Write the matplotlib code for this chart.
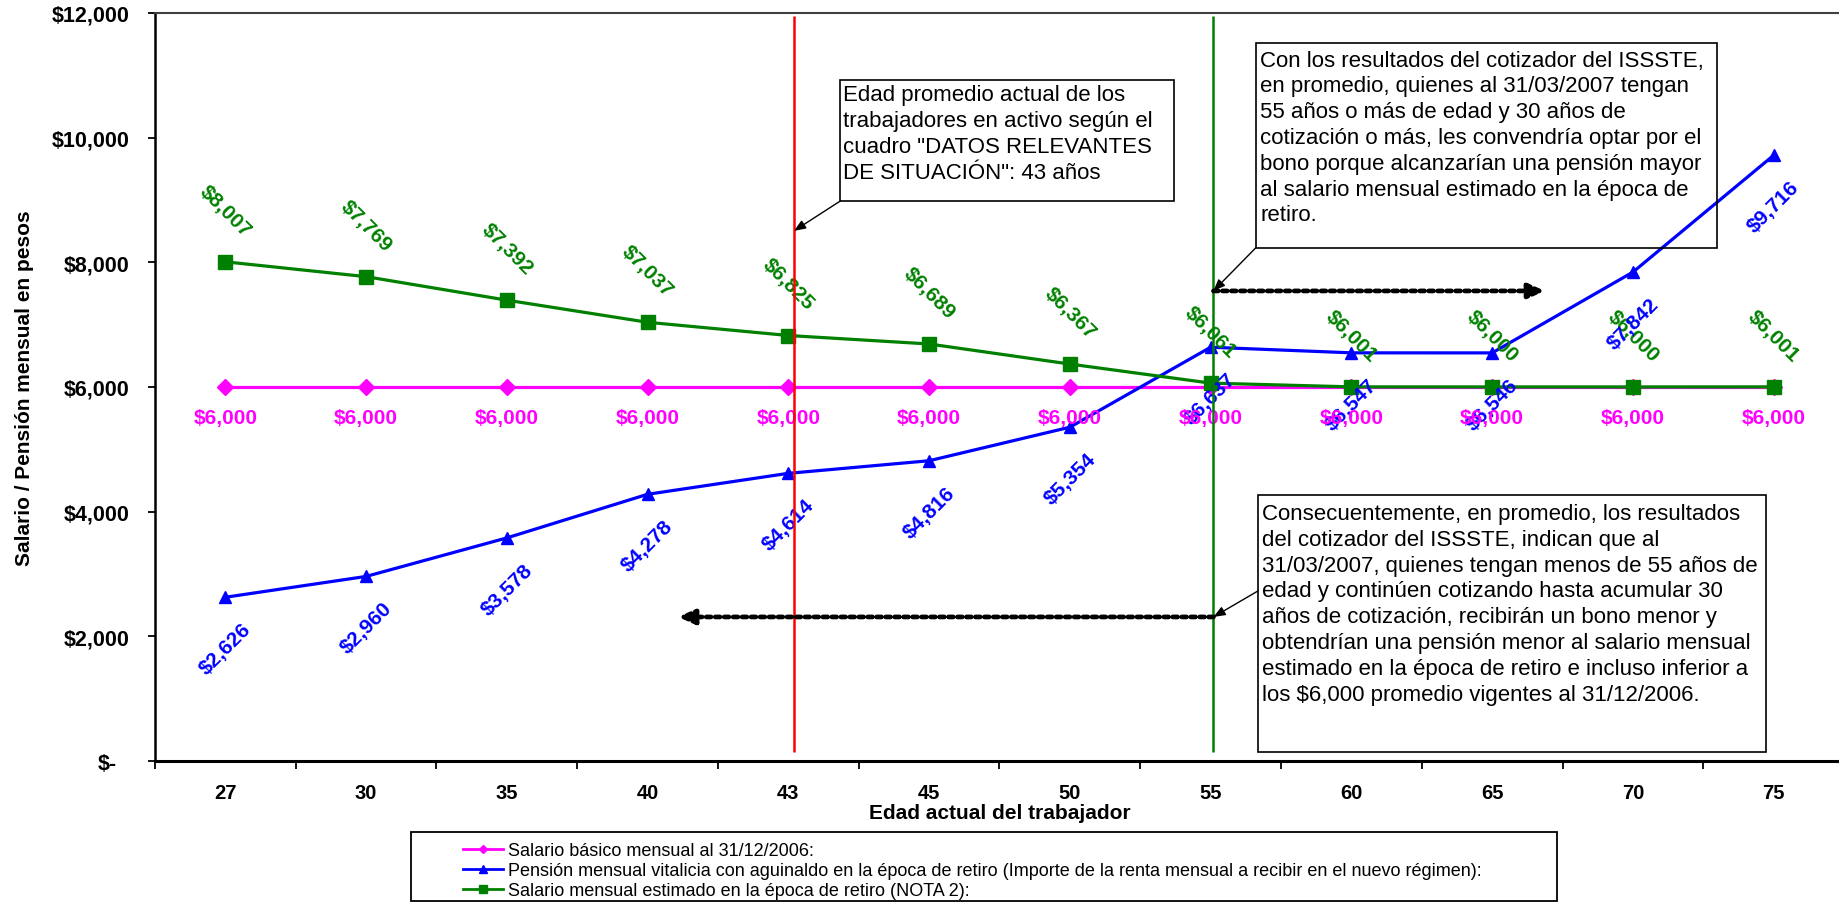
import numpy as np
import matplotlib.pyplot as plt
from matplotlib.lines import Line2D
from matplotlib.patches import Rectangle
from matplotlib.transforms import ScaledTranslation

# datos
edades = [27, 30, 35, 40, 43, 45, 50, 55, 60, 65, 70, 75]
salario_basico = [6000, 6000, 6000, 6000, 6000, 6000, 6000, 6000, 6000, 6000, 6000, 6000]
pension = [2626, 2960, 3578, 4278, 4614, 4816, 5354, 6637, 6547, 6546, 7842, 9716]
salario_retiro = [8007, 7769, 7392, 7037, 6825, 6689, 6367, 6061, 6001, 6000, 6000, 6001]
yticks = [0, 2000, 4000, 6000, 8000, 10000, 12000]
edad_promedio = 43
edad_corte = 55

nombres = ['Salario básico mensual al 31/12/2006:',
           'Pensión mensual vitalicia con aguinaldo en la época de retiro '
           '(Importe de la renta mensual a recibir en el nuevo régimen):',
           'Salario mensual estimado en la época de retiro (NOTA 2):']

nota_edad = ('Edad promedio actual de los\ntrabajadores en activo según el\n'
             'cuadro "DATOS RELEVANTES\nDE SITUACIÓN": 43 años')
nota_mayores = ('Con los resultados del cotizador del ISSSTE,\n'
                'en promedio, quienes al 31/03/2007 tengan\n'
                '55 años o más de edad y 30 años de\n'
                'cotización o más, les convendría optar por el\n'
                'bono porque alcanzarían una pensión mayor\n'
                'al salario mensual estimado en la época de\n'
                'retiro.')
nota_menores = ('Consecuentemente, en promedio, los resultados\n'
                'del cotizador del ISSSTE, indican que al\n'
                '31/03/2007, quienes tengan menos de 55 años de\n'
                'edad y continúen cotizando hasta acumular 30\n'
                'años de cotización, recibirán un bono menor y\n'
                'obtendrían una pensión menor al salario mensual\n'
                'estimado en la época de retiro e incluso inferior a\n'
                'los $6,000 promedio vigentes al 31/12/2006.')

plt.rcParams['font.family'] = ['Liberation Sans', 'DejaVu Sans']

MAGENTA = '#FF00FF'
AZUL = '#0000FF'
VERDE = '#008000'
ROJO = '#FF0000'

fig = plt.figure(figsize=(18.4, 9.03), dpi=100)
ax = fig.add_axes([0.0842, 0.1562, 0.918, 0.8284])

x = np.arange(len(edades))

ax.plot(x, salario_basico, color=MAGENTA, lw=2.3, marker='D', ms=8, zorder=3)
ax.plot(x, pension, color=AZUL, lw=2.3, marker='^', ms=8, zorder=3)
ax.plot(x, salario_retiro, color=VERDE, lw=2.3, marker='s', ms=10.5, zorder=3)

# etiquetas de valores
for xi, v in zip(x, salario_retiro):
    ax.annotate(f'${v:,.0f}', (xi, v), xytext=(0, 37), textcoords='offset points',
                ha='center', va='center', rotation=-45, color=VERDE,
                fontsize=15, fontweight='bold', zorder=4)
for xi, v in zip(x, pension):
    ax.annotate(f'${v:,.0f}', (xi, v), xytext=(0, -37), textcoords='offset points',
                ha='center', va='center', rotation=45, color=AZUL,
                fontsize=15, fontweight='bold', zorder=4)
for xi, v in zip(x, salario_basico):
    ax.annotate(f'${v:,.0f}', (xi, v), xytext=(0, -22), textcoords='offset points',
                ha='center', va='center', color=MAGENTA,
                fontsize=15, fontweight='bold', zorder=4)

# líneas de referencia (43 y 55 años)
x43 = edades.index(edad_promedio) + 0.04
x55 = edades.index(edad_corte) + 0.02
ax.vlines(x43, 150, 11950, color=ROJO, lw=1.8, zorder=5)
ax.vlines(x55, 150, 11950, color=VERDE, lw=1.8, zorder=5)

# cuadros de texto
def cuadro(x0, x1, y0, y1, texto, tx, ty):
    ax.add_patch(Rectangle((x0, y0), x1 - x0, y1 - y0, fill=False,
                           ec='black', lw=1.2, zorder=6))
    ax.text(tx, ty, texto, fontsize=16, va='top', ha='left',
            linespacing=1.30, zorder=6)

cuadro(4.37, 6.74, 8984, 10925, nota_edad, 4.389, 10855)
cuadro(7.32, 10.595, 8230, 11520, nota_mayores, 7.351, 11410)
cuadro(7.337, 10.945, 144, 4267, nota_menores, 7.365, 4139)

flecha = dict(arrowstyle='-|>,head_length=0.7,head_width=0.28', color='black',
              lw=1, shrinkA=0, shrinkB=0)
ax.annotate('', xy=(x43, 8503), xytext=(4.37, 8984), arrowprops=flecha, zorder=6)
ax.annotate('', xy=(x55, 7540), xytext=(7.32, 8230), arrowprops=flecha, zorder=6)
ax.annotate('', xy=(x55, 2310), xytext=(7.337, 2728), arrowprops=flecha, zorder=6)

punteada = dict(arrowstyle='-|>,head_length=0.95,head_width=0.43', color='black',
                lw=3.4, ls=(0, (1, 0.9)), shrinkA=0, shrinkB=0)
ax.annotate('', xy=(9.375, 7540), xytext=(x55, 7540), arrowprops=punteada, zorder=6)
ax.annotate('', xy=(3.217, 2310), xytext=(x55, 2310), arrowprops=punteada, zorder=6)

# ejes
ax.set_xlim(-0.5, len(edades) - 0.5)
ax.set_ylim(0, 12000)
ax.set_xticks(x, [str(e) for e in edades])
ax.set_xticks(np.arange(len(edades) + 1) - 0.5, minor=True)
ax.tick_params(axis='x', which='major', length=0, pad=16, labelsize=14.5)
ax.tick_params(axis='x', which='minor', length=6, width=1.3, direction='out')
ax.set_yticks(yticks, [f'${v:,.0f}' if v else '$-' for v in yticks])
ax.tick_params(axis='y', length=5, width=1.3, direction='out', pad=13.5, labelsize=15.5)
for lab in ax.get_xticklabels() + ax.get_yticklabels():
    lab.set_fontweight('bold')
cero = ax.get_yticklabels()[0]
cero.set_transform(cero.get_transform() + ScaledTranslation(-0.12, 0, fig.dpi_scale_trans))

ax.spines['right'].set_visible(False)
ax.spines['top'].set_color('#404040')
ax.spines['top'].set_linewidth(1.5)
ax.spines['left'].set_linewidth(1.8)
ax.spines['bottom'].set_linewidth(2.2)

ax.set_xlabel('Edad actual del trabajador', fontsize=15, fontweight='bold')
ax.xaxis.set_label_coords(0.5, -0.056)
ax.set_ylabel('Salario / Pensión mensual en pesos', fontsize=15, fontweight='bold')
ax.yaxis.set_label_coords(-0.0715, 0.5)

# leyenda
manijas = [Line2D([], [], color=MAGENTA, lw=2, marker='D', ms=4),
           Line2D([], [], color=AZUL, lw=2, marker='^', ms=6),
           Line2D([], [], color=VERDE, lw=2, marker='s', ms=6)]
fig.add_artist(Rectangle((411 / 1840, 1 / 903), 1146 / 1840, 69 / 903, fill=False,
                         ec='black', lw=1.3, transform=fig.transFigure))
fig.legend(manijas, nombres, loc='upper left', bbox_to_anchor=(463 / 1840, 1 - 843 / 903),
           frameon=False, fontsize=13, handlelength=2.2, handletextpad=0.28,
           labelspacing=0.17, borderpad=0, borderaxespad=0)

fig.savefig('out.png', dpi=100)
